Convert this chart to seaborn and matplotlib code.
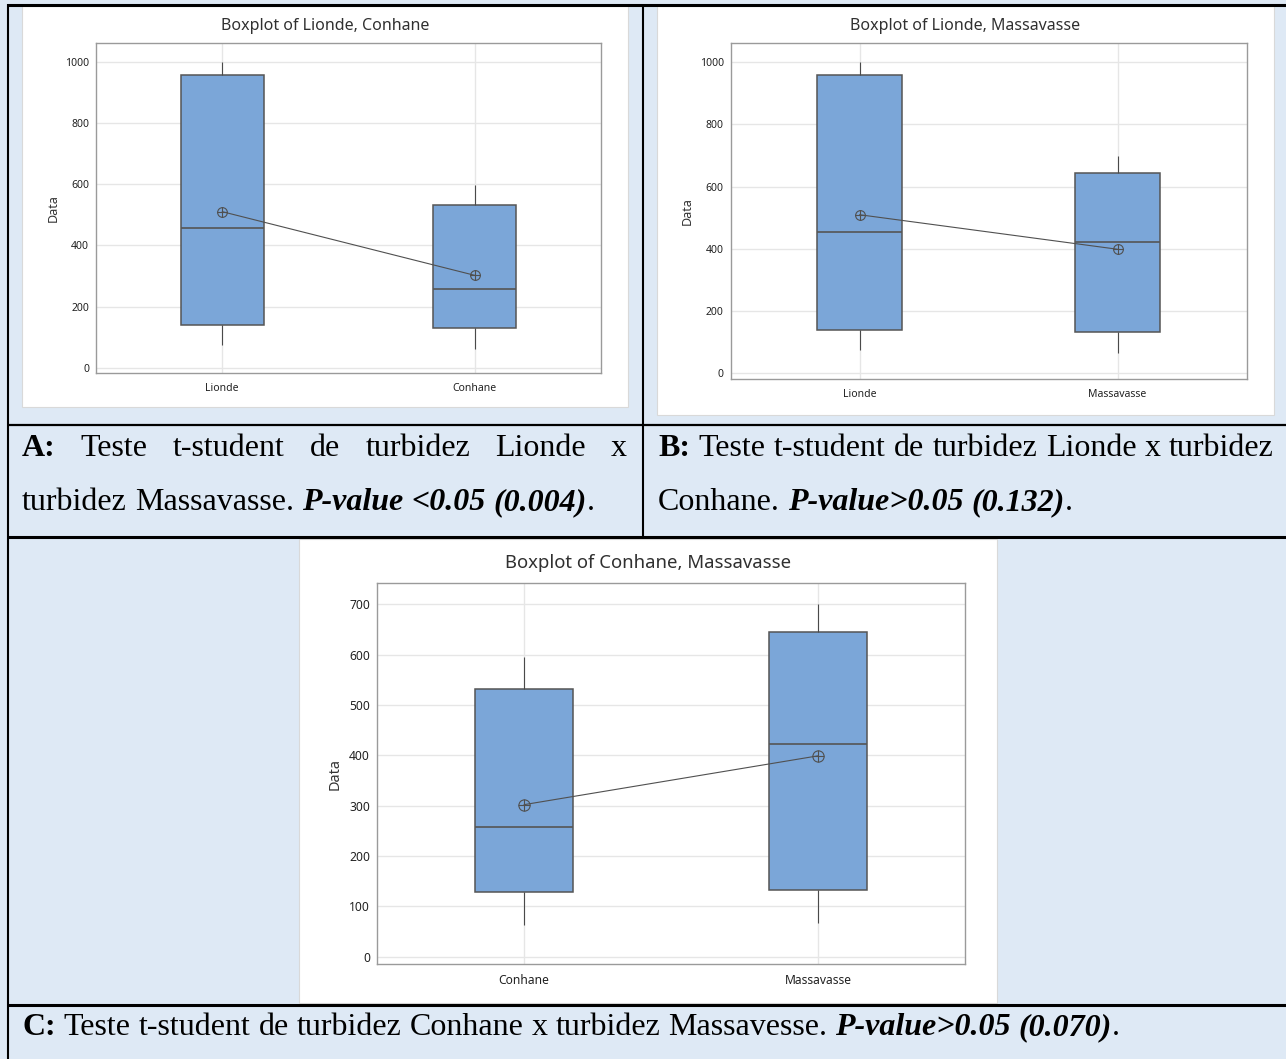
import numpy as np
import pandas as pd
import matplotlib
matplotlib.use("Agg")
import matplotlib.pyplot as plt
import seaborn as sns
from matplotlib.patches import Rectangle
from matplotlib.lines import Line2D
from matplotlib.path import Path

# Turbidity by station: (min, Q1, median, Q3, max) and mean
stations = ["Lionde", "Conhane", "Massavasse"]
lionde_summary = [76, 139, 456, 958, 1000]
conhane_summary = [63, 129, 258, 531, 596]
massavasse_summary = [66, 132, 423, 644, 700]
lionde_mean = 510
conhane_mean = 302
massavasse_mean = 399

summaries = {"Lionde": lionde_summary, "Conhane": conhane_summary,
             "Massavasse": massavasse_summary}
means = {"Lionde": lionde_mean, "Conhane": conhane_mean,
         "Massavasse": massavasse_mean}

pairs = [("Lionde", "Conhane"), ("Lionde", "Massavasse"), ("Conhane", "Massavasse")]
titles = ["Boxplot of Lionde, Conhane", "Boxplot of Lionde, Massavasse",
          "Boxplot of Conhane, Massavasse"]
yticks_ab = [0, 200, 400, 600, 800, 1000]
yticks_c = [0, 100, 200, 300, 400, 500, 600, 700]

# caption runs: (text, style, attach-without-space)
caption_a1 = [("A:", "b", False), ("Teste", "r", False), ("t-student", "r", False),
              ("de", "r", False), ("turbidez", "r", False), ("Lionde", "r", False),
              ("x", "r", False)]
caption_a2 = [("turbidez", "r", False), ("Massavasse.", "r", False),
              ("P-value", "bi", False), ("<0.05", "bi", False), ("(0.004)", "bi", False),
              (".", "r", True)]
caption_b1 = [("B:", "b", False), ("Teste", "r", False), ("t-student", "r", False),
              ("de", "r", False), ("turbidez", "r", False), ("Lionde", "r", False),
              ("x", "r", False), ("turbidez", "r", False)]
caption_b2 = [("Conhane.", "r", False), ("P-value>0.05", "bi", False),
              ("(0.132)", "bi", False), (".", "r", True)]
caption_c = [("C:", "b", False), ("Teste", "r", False), ("t-student", "r", False),
             ("de", "r", False), ("turbidez", "r", False), ("Conhane", "r", False),
             ("x", "r", False), ("turbidez", "r", False), ("Massavesse.", "r", False),
             ("P-value>0.05", "bi", False), ("(0.070)", "bi", False), (".", "r", True)]

W, H = 1286, 1059
BG = "#dee9f5"
BOX_BLUE = "#7ba6d8"
EDGE = "#555555"
SANS = ["Noto Sans", "DejaVu Sans"]
SERIF = ["Liberation Serif", "DejaVu Serif"]

sns.set_style("white")
plt.rcParams["font.family"] = SANS

fig = plt.figure(figsize=(W / 100, H / 100), dpi=100)
fig.patch.set_facecolor(BG)


def fx(x):
    return x / W


def fy(y):
    return 1 - y / H


def px_rect(x0, y0, x1, y1):
    return [x0 / W, 1 - y1 / H, (x1 - x0) / W, (y1 - y0) / H]


# white cards behind each chart
cards = [(22, 6, 628, 407), (657, 6, 1274, 415), (299, 539, 997, 1003)]
for (x0, y0, x1, y1) in cards:
    fig.add_artist(Rectangle((fx(x0), fy(y1)), (x1 - x0) / W, (y1 - y0) / H,
                             transform=fig.transFigure, facecolor="white",
                             edgecolor="#d9d9d9", linewidth=0.8, zorder=0))

# circle-with-cross marker for the means
mean_marker = Path.make_compound_path(
    Path.unit_circle(),
    Path([[-1, 0], [1, 0]], [Path.MOVETO, Path.LINETO]),
    Path([[0, -1], [0, 1]], [Path.MOVETO, Path.LINETO]),
)


def draw_panel(rect, card, title_y, pair, title, yticks, ylim, scale):
    ax = fig.add_axes(px_rect(*rect))
    ax.set_facecolor("white")
    order = list(pair)
    df = pd.DataFrame({
        "station": np.repeat(order, 5),
        "value": np.concatenate([summaries[p] for p in order]),
    })
    sns.boxplot(data=df, x="station", y="value", order=order, width=0.33,
                color=BOX_BLUE, saturation=1, linecolor=EDGE, linewidth=1.1,
                whis=(0, 100), showcaps=False, showfliers=False, ax=ax,
                whiskerprops=dict(linewidth=0.8, color="#4a4a4a"),
                medianprops=dict(linewidth=1.2, color="#555555"))
    sns.pointplot(x=order, y=[means[p] for p in order], order=order,
                  color="#505050", markers=mean_marker, linestyles="-",
                  errorbar=None, linewidth=0.8, markersize=7 * scale,
                  markeredgewidth=0.8, ax=ax)
    ax.lines[-1].set_markerfacecolor("none")
    ax.lines[-1].set_zorder(5)

    ax.set_xlim(-0.5, 1.5)
    ax.set_ylim(*ylim)
    ax.set_yticks(yticks)
    ax.set_xlabel("")
    ax.set_ylabel("Data", fontsize=9 * scale, color="#333333", labelpad=4 * scale)
    ax.set_axisbelow(True)
    ax.grid(True, color="#e6e6e6", linewidth=1.0)
    for s in ax.spines.values():
        s.set_color("#9a9a9a")
        s.set_linewidth(1.0)
    ax.tick_params(axis="both", length=3, width=0.7, color="#888888",
                   labelsize=7.5 * scale, labelcolor="#222222", pad=2)
    ax.tick_params(axis="x", pad=4)
    cx = (card[0] + card[2]) / 2
    fig.text(fx(cx), fy(title_y), title, ha="center", va="center",
             fontsize=11.5 * scale, color="#303030")
    return ax


draw_panel((96, 43.3, 601, 373.3), cards[0], 26, pairs[0], titles[0], yticks_ab, (-18, 1060), 1.0)
draw_panel((730.6, 43.3, 1246.5, 379.3), cards[1], 26, pairs[1], titles[1], yticks_ab, (-19, 1061), 1.0)
draw_panel((377, 583.3, 965, 964), cards[2], 563, pairs[2], titles[2], yticks_c, (-14.5, 741.7), 1.16)

# table rules
def hline(y, x0, x1, lw):
    fig.add_artist(Line2D([fx(x0), fx(x1)], [fy(y), fy(y)], transform=fig.transFigure,
                          color="black", linewidth=lw, solid_capstyle="butt"))


def vline(x, y0, y1, lw):
    fig.add_artist(Line2D([fx(x), fx(x)], [fy(y0), fy(y1)], transform=fig.transFigure,
                          color="black", linewidth=lw, solid_capstyle="butt"))


hline(5, 7, W, 2.2)
hline(425, 7, W, 1.6)
hline(537, 7, W, 2.2)
hline(1005, 7, W, 2.2)
vline(7.5, 4, H, 1.5)
vline(642.5, 4, 537, 1.5)

# captions
renderer = fig.canvas.get_renderer()
STYLE = {"r": ("normal", "normal"), "b": ("bold", "normal"), "bi": ("bold", "italic")}


def text_width(txt, size, st):
    weight, style = STYLE[st]
    t = fig.text(0, 0, txt, fontsize=size, family=SERIF, fontweight=weight, fontstyle=style)
    w = t.get_window_extent(renderer).width
    t.remove()
    return w


def space_width(size):
    return text_width("a a", size, "r") - text_width("aa", size, "r")


def line_width(words, size):
    sp = space_width(size)
    total = 0
    for i, (txt, st, join) in enumerate(words):
        if i > 0 and not join:
            total += sp
        total += text_width(txt, size, st)
    return total


ref = 20.0
cap_size = ref * (1120 - 22) / line_width(caption_c, ref)


def draw_caption(words, x0, base, size, x1=None):
    widths = [text_width(t, size, st) for t, st, _ in words]
    n_gaps = sum(1 for i, w in enumerate(words) if i > 0 and not w[2])
    gap = space_width(size)
    if x1 is not None:
        gap = (x1 - x0 - sum(widths)) / n_gaps
    x = x0
    for i, (txt, st, join) in enumerate(words):
        if i > 0 and not join:
            x += gap
        weight, style = STYLE[st]
        fig.text(fx(x), fy(base), txt, fontsize=size, family=SERIF, fontweight=weight,
                 fontstyle=style, ha="left", va="baseline", color="black")
        x += widths[i]


draw_caption(caption_a1, 22, 456, cap_size, x1=627)
draw_caption(caption_a2, 22, 510, cap_size)
draw_caption(caption_b1, 658, 456, cap_size, x1=1274)
draw_caption(caption_b2, 658, 510, cap_size)
draw_caption(caption_c, 22, 1035, cap_size)

fig.savefig("out.png", dpi=100, facecolor=BG)
